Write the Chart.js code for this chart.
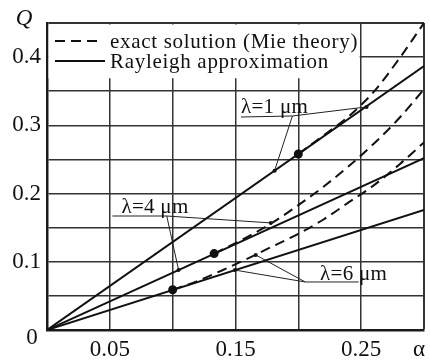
<!DOCTYPE html>
<html><head><meta charset="utf-8">
<script src="https://cdn.jsdelivr.net/npm/chart.js@4/dist/chart.umd.min.js"></script>
<style>html,body{margin:0;padding:0;background:#fff;overflow:hidden}canvas{display:block}</style>
</head><body>
<canvas id="c" width="430" height="361" style="width:430px;height:361px"></canvas>
<script>
// ---- data ----
const xTickValues = [0, 0.05, 0.1, 0.15, 0.2, 0.25, 0.3];
const xTickLabels = ['', '0.05', '', '0.15', '', '0.25', ''];
const yTickValues = [0, 0.05, 0.1, 0.15, 0.2, 0.25, 0.3, 0.35, 0.4, 0.45];
const yTickLabels = ['', '', '0.1', '', '0.2', '', '0.3', '', '0.4', ''];
const axisNames = ['α', 'Q', '0'];

const legendLabels = ['exact solution (Mie theory)', 'Rayleigh approximation'];
const lambdaLabels = ['λ=1 μm', 'λ=4 μm', 'λ=6 μm'];

// Rayleigh approximation (straight lines from origin)
const rayAlpha = [0, 0.3];
const rayQ1 = [0, 0.387];
const rayQ4 = [0, 0.252];
const rayQ6 = [0, 0.176];

// exact solution (Mie theory)
const mieAlpha1 = [0.2, 0.22, 0.24, 0.25, 0.26, 0.28, 0.3];
const mieQ1     = [0.258, 0.285, 0.313, 0.330, 0.349, 0.397, 0.45];
const mieAlpha4 = [0.133, 0.16, 0.18, 0.2, 0.22, 0.24, 0.26, 0.28, 0.3];
const mieQ4     = [0.112, 0.137, 0.158, 0.183, 0.21, 0.24, 0.273, 0.31, 0.353];
const mieAlpha6 = [0.1, 0.12, 0.14, 0.16, 0.18, 0.2, 0.22, 0.24, 0.26, 0.28, 0.3];
const mieQ6     = [0.059, 0.072, 0.088, 0.105, 0.123, 0.141, 0.162, 0.187, 0.212, 0.242, 0.275];

// marked points where the curves part
const dotAlpha = [0.2, 0.133, 0.1];
const dotQ     = [0.258, 0.112, 0.059];

// callout leader lines (data coordinates)
const leader1a = [[0.1543, 0.3122], [0.1953, 0.3137], [0.2543, 0.327]];
const leader1b = [[0.1953, 0.3137], [0.1811, 0.2336]];
const leader4a = [[0.052, 0.1671], [0.0953, 0.1671], [0.178, 0.157]];
const leader4b = [[0.0953, 0.1671], [0.1047, 0.088]];
const leader6a = [[0.248, 0.0704], [0.2055, 0.0704], [0.1661, 0.110]];
const leader6b = [[0.2055, 0.0704], [0.1496, 0.0878]];
const lambdaAnchors = [[0.1543, 0.318], [0.0592, 0.171], [0.2173, 0.073]];

// ---- build ----
const pts = (xs, ys) => xs.map((v, i) => ({x: v, y: ys[i]}));
const pairs = arr => arr.map(p => ({x: p[0], y: p[1]}));
const INK = '#111';
const FONT = '"Liberation Serif", "Times New Roman", serif';

function solid(label, data) {
  return {type: 'line', label, data, borderColor: INK, borderWidth: 2, pointRadius: 0, fill: false};
}
function dashed(label, data) {
  return {type: 'line', label, data, borderColor: INK, borderWidth: 2, borderDash: [10, 6],
    pointRadius: 0, fill: false, cubicInterpolationMode: 'monotone'};
}
function leader(data) {
  return {type: 'line', label: 'leader', data, borderColor: '#222', borderWidth: 1,
    backgroundColor: INK, pointBorderWidth: 0,
    pointRadius: c => c.dataIndex === data.length - 1 ? 2 : 0, fill: false};
}

const datasets = [
  dashed(legendLabels[0], pts(mieAlpha1, mieQ1)),
  dashed(legendLabels[0], pts(mieAlpha4, mieQ4)),
  dashed(legendLabels[0], pts(mieAlpha6, mieQ6)),
  solid(legendLabels[1], pts(rayAlpha, rayQ1)),
  solid(legendLabels[1], pts(rayAlpha, rayQ4)),
  solid(legendLabels[1], pts(rayAlpha, rayQ6)),
  {type: 'scatter', label: 'dots', data: pts(dotAlpha, dotQ), pointRadius: 4.5,
    backgroundColor: INK, borderColor: INK, pointBorderWidth: 0},
  leader(pairs(leader1a)), leader(pairs(leader1b)),
  leader(pairs(leader4a)), leader(pairs(leader4b)),
  leader(pairs(leader6a)), leader(pairs(leader6b)),
];

const decor = {
  id: 'decor',
  beforeDatasetsDraw(chart) {
    const {ctx, chartArea: a, scales: {x, y}} = chart;
    ctx.save();
    ctx.fillStyle = '#fff';
    const r = x.getPixelForValue(0.25) - 1.5;
    const b = y.getPixelForValue(0.369);
    ctx.fillRect(a.left + 1.5, a.top + 1.5, r - a.left - 1.5, b - a.top - 1.5);
    ctx.restore();
  },
  afterDatasetsDraw(chart) {
    const {ctx, chartArea: a, scales: {x, y}} = chart;
    ctx.save();
    ctx.fillStyle = INK;
    ctx.strokeStyle = INK;
    ctx.lineWidth = 2;
    // legend
    const ly = [a.top + 18, a.top + 38];
    const sx0 = a.left + 8;
    ctx.setLineDash([10, 6]);
    ctx.beginPath(); ctx.moveTo(sx0, ly[0]); ctx.lineTo(sx0 + 46, ly[0]); ctx.stroke();
    ctx.setLineDash([]);
    ctx.beginPath(); ctx.moveTo(sx0, ly[1]); ctx.lineTo(sx0 + 50, ly[1]); ctx.stroke();
    ctx.font = '21px ' + FONT;
    ctx.letterSpacing = '0.7px';
    ctx.textBaseline = 'alphabetic';
    ctx.textAlign = 'left';
    ctx.fillText(legendLabels[0], a.left + 63, ly[0] + 7);
    ctx.fillText(legendLabels[1], a.left + 63, ly[1] + 7);
    // lambda labels
    ctx.letterSpacing = '0.3px';
    lambdaLabels.forEach((t, i) => {
      ctx.fillText(t, x.getPixelForValue(lambdaAnchors[i][0]), y.getPixelForValue(lambdaAnchors[i][1]));
    });
    ctx.letterSpacing = '0px';
    // axis names
    ctx.textAlign = 'center';
    ctx.textBaseline = 'middle';
    ctx.font = '23px ' + FONT;
    ctx.fillText(axisNames[0], x.getPixelForValue(0.3) - 5, a.bottom + 20);
    ctx.fillText(axisNames[2], a.left - 15, a.bottom + 8);
    ctx.font = 'italic 23px ' + FONT;
    ctx.fillText(axisNames[1], a.left - 23, a.top - 4);
    ctx.restore();
  }
};

const gridColor = '#333';
new Chart(document.getElementById('c'), {
  data: {datasets},
  options: {
    responsive: false,
    animation: false,
    devicePixelRatio: 1,
    layout: {padding: {top: 23, right: 2, left: 0, bottom: 0}},
    plugins: {legend: {display: false}, tooltip: {enabled: false}},
    scales: {
      x: {
        type: 'linear', min: 0, max: 0.3,
        afterBuildTicks: s => { s.ticks = xTickValues.map(v => ({value: v})); },
        afterFit: s => { s.height = 31; },
        grid: {color: gridColor, lineWidth: c => (c.tick && c.tick.value === 0.3) ? 2 : 1.5, drawTicks: false},
        border: {color: '#1a1a1a', width: 2.5},
        ticks: {
          padding: 6, color: INK, maxRotation: 0, autoSkip: false,
          font: {family: FONT, size: 23},
          callback: (v, i) => xTickLabels[i]
        }
      },
      y: {
        type: 'linear', min: 0, max: 0.45,
        afterBuildTicks: s => { s.ticks = yTickValues.map(v => ({value: v})); },
        afterFit: s => { s.width = 47; },
        grid: {color: gridColor, lineWidth: c => (c.tick && c.tick.value === 0.45) ? 2 : 1.5, drawTicks: false},
        border: {color: '#1a1a1a', width: 2.5},
        ticks: {
          padding: 6, color: INK, autoSkip: false,
          font: {family: FONT, size: 23},
          callback: (v, i) => yTickLabels[i]
        }
      }
    }
  },
  plugins: [decor]
});
</script>
</body></html>
